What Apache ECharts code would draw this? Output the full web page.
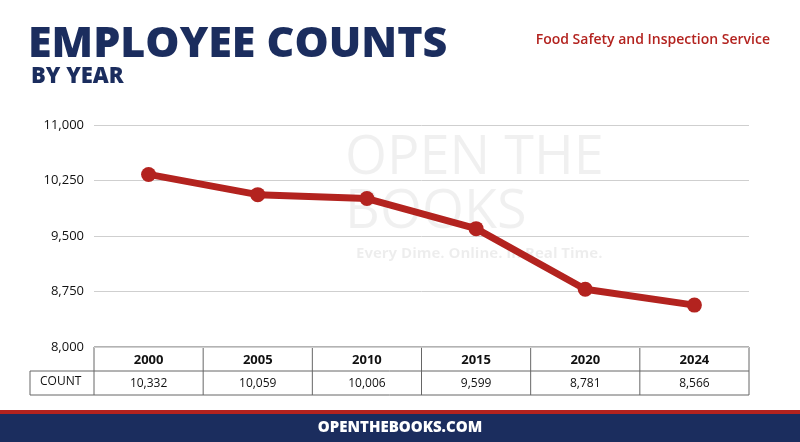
<!DOCTYPE html>
<html lang="en">
<head>
<meta charset="UTF-8">
<title>Employee Counts</title>
<style>
  html, body { margin: 0; padding: 0; background: #fff; }
  #chart { width: 800px; height: 442px; }
</style>
<script src="https://cdn.jsdelivr.net/npm/echarts@6/dist/echarts.min.js"></script>
</head>
<body>
<div id="chart"></div>
<script>
var years = ['2000', '2005', '2010', '2015', '2020', '2024'];
var counts = [10332, 10059, 10006, 9599, 8781, 8566];
var yTicks = [8000, 8750, 9500, 10250, 11000];

var navy = '#1b2d5e', red = '#b3231f';
var chart = echarts.init(document.getElementById('chart'));

function fmt(v) { return v.toLocaleString('en-US'); }

var tableTop = 347, rowH = 24, tableL = 30, tableR = 749, colL = 94;
var lines = [];
// table horizontal lines
[tableTop, tableTop + rowH, tableTop + 2 * rowH].forEach(function (y, i) {
  lines.push({ type: 'line', shape: { x1: i === 0 ? colL : tableL, y1: y, x2: tableR, y2: y },
    style: { stroke: '#666', lineWidth: 1 } });
});
// table vertical lines
var band = (tableR - colL) / years.length;
for (var i = 0; i <= years.length; i++) {
  var x = colL + band * i;
  lines.push({ type: 'line', shape: { x1: x, y1: tableTop, x2: x, y2: tableTop + 2 * rowH },
    style: { stroke: '#666', lineWidth: 1 } });
}
lines.push({ type: 'line', shape: { x1: tableL, y1: tableTop + rowH, x2: tableL, y2: tableTop + 2 * rowH },
  style: { stroke: '#666', lineWidth: 1 } });

var option = {
  backgroundColor: '#fff',
  animation: false,
  textStyle: { fontFamily: 'Open Sans' },
  graphic: [
    { type: 'text', left: 345, top: 132, style: { text: 'OPEN THE\nBOOKS', fill: 'rgba(0,0,0,0.06)',
      font: '54px "Open Sans"', lineHeight: 54 }, z: -1 },
    { type: 'text', left: 356, top: 246, style: { text: 'Every Dime. Online. In Real Time.', fill: 'rgba(0,0,0,0.07)',
      font: 'bold 15px "Open Sans"' }, z: -1 },
    { type: 'text', left: 28, top: 23, style: { text: 'EMPLOYEE COUNTS', fill: navy,
      font: '900 43px "Open Sans"' } },
    { type: 'text', left: 31, top: 66, style: { text: 'BY YEAR', fill: navy, font: '800 22px "Open Sans"' } },
    { type: 'text', right: 30, top: 33, style: { text: 'Food Safety and Inspection Service', fill: red,
      font: '600 14px "Open Sans"' } },
    { type: 'text', left: 40, top: tableTop + rowH + 5, style: { text: 'COUNT', fill: '#111', font: '12px "Open Sans"' } },
    { type: 'rect', shape: { x: 0, y: 410, width: 800, height: 4 }, style: { fill: red } },
    { type: 'rect', shape: { x: 0, y: 414, width: 800, height: 28 }, style: { fill: navy } },
    { type: 'text', left: 'center', top: 420, style: { text: 'OPENTHEBOOKS.COM', fill: '#fff',
      font: '800 15px "Open Sans"' } }
  ].concat(lines),
  grid: { left: colL, right: 800 - tableR, top: 125, bottom: 442 - tableTop },
  xAxis: [
    { type: 'category', data: years, boundaryGap: true,
      axisLine: { show: false }, axisTick: { show: false },
      axisLabel: { color: '#111', fontWeight: 'bold', fontSize: 13, margin: 7 } },
    { type: 'category', data: counts.map(fmt), position: 'bottom', offset: rowH,
      axisLine: { show: false }, axisTick: { show: false },
      axisLabel: { color: '#111', fontSize: 12, margin: 7 } }
  ],
  yAxis: {
    type: 'value', min: 8000, max: 11000, interval: 750,
    axisLine: { show: false }, axisTick: { show: false },
    axisLabel: { color: '#111', fontSize: 13, margin: 10, formatter: function (v) { return fmt(v); } },
    splitLine: { lineStyle: { color: '#cfcfcf' } }
  },
  series: [{
    type: 'line', data: counts, xAxisIndex: 0,
    lineStyle: { color: red, width: 7 },
    itemStyle: { color: red },
    symbol: 'circle', symbolSize: 15
  }]
};
chart.setOption(option);
</script>
</body>
</html>
